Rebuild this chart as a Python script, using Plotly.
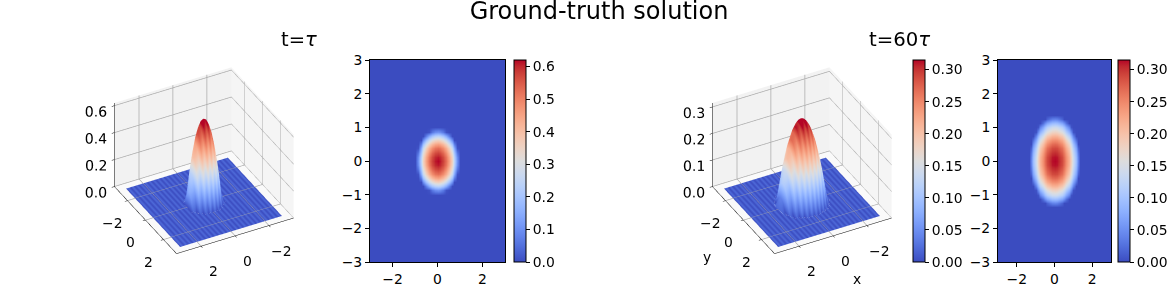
import numpy as np
import plotly.graph_objects as go

FIG_W, FIG_H = 1168, 295
TITLE = "Ground-truth solution"
SUBTITLES = ["t=<i>τ</i>", "t=60<i>τ</i>"]
GRID_STEP = 0.125
GRID_HALF = 24  # samples per side, -3 .. 3

# Values: one quadrant, |x| and |y| rising in 0.125 steps
QUADRANT_TAU = [
    [.620, .609, .578, .525, .452, .357, .241, .104],
    [.609, .599, .567, .515, .441, .346, .231, .094],
    [.578, .567, .536, .483, .409, .315, .199, .062],
    [.525, .515, .483, .431, .357, .262, .146, .010],
    [.452, .441, .409, .357, .283, .188, .073, 0],
    [.357, .346, .315, .262, .188, .094, 0, 0],
    [.241, .231, .199, .146, .073, 0, 0, 0],
    [.104, .094, .062, .010, 0, 0, 0, 0],
]
QUADRANT_60TAU = [
    [.315, .312, .304, .290, .271, .246, .216, .181, .140, .093, .041],
    [.312, .310, .301, .288, .268, .244, .214, .178, .137, .090, .038],
    [.304, .301, .293, .279, .260, .236, .205, .170, .129, .082, .030],
    [.290, .288, .279, .266, .246, .222, .192, .156, .115, .068, .016],
    [.271, .268, .260, .246, .227, .203, .173, .137, .096, .049, 0],
    [.246, .244, .236, .222, .203, .178, .148, .112, .071, .025, 0],
    [.216, .214, .205, .192, .173, .148, .118, .082, .041, 0, 0],
    [.181, .178, .170, .156, .137, .112, .082, .047, .005, 0, 0],
    [.140, .137, .129, .115, .096, .071, .041, .005, 0, 0, 0],
    [.093, .090, .082, .068, .049, .025, 0, 0, 0, 0, 0],
    [.041, .038, .030, .016, 0, 0, 0, 0, 0, 0, 0],
]
Z_MAX = [0.62, 0.315]
COLORBAR_TICKS = [[0, .1, .2, .3, .4, .5, .6], [0, .05, .1, .15, .2, .25, .3]]
SURFACE_Z_TICKS = [[0, .2, .4, .6], [0, .1, .2, .3]]
X_TICKS = [-2, 0, 2]
Y_TICKS = [-3, -2, -1, 0, 1, 2, 3]

COOLWARM_RGB = [
    (59, 76, 192), (68, 90, 204), (77, 104, 215), (87, 118, 225), (98, 130, 234),
    (108, 142, 241), (119, 154, 247), (130, 165, 251), (141, 176, 254), (152, 185, 255),
    (163, 194, 255), (174, 201, 253), (184, 208, 249), (194, 213, 244), (204, 217, 238),
    (213, 219, 230), (221, 221, 221), (229, 216, 209), (236, 211, 197), (241, 204, 185),
    (245, 196, 173), (247, 187, 160), (247, 177, 148), (247, 166, 135), (244, 154, 123),
    (241, 141, 111), (236, 127, 99), (229, 112, 88), (222, 96, 77), (213, 80, 66),
    (203, 62, 56), (192, 40, 47), (180, 4, 38),
]
coolwarm = [[i / (len(COOLWARM_RGB) - 1), f"rgb{c}"] for i, c in enumerate(COOLWARM_RGB)]


def expand(quadrant):
    """Mirror a quadrant to all four and pad with the zero plateau."""
    q = np.zeros((GRID_HALF + 1, GRID_HALF + 1))
    a = np.array(quadrant)
    q[: a.shape[0], : a.shape[1]] = a
    top = np.hstack([q[:, :0:-1], q])
    return np.vstack([top[:0:-1], top])


axis_vals = np.arange(-GRID_HALF, GRID_HALF + 1) * GRID_STEP
Z = [expand(QUADRANT_TAU), expand(QUADRANT_60TAU)]

FONT = "DejaVu Sans"
TICK = dict(family=FONT, size=13.9, color="black")
TICK3D = dict(family=FONT, size=13, color="black")


def fx(px):
    return px / FIG_W


def fy(px):
    return 1 - px / FIG_H


fig = go.Figure()


def colorbar(left, ticks, fmt):
    return dict(
        x=fx(left), xanchor="left", xref="paper", y=fy(262), yanchor="bottom", yref="paper",
        len=(262 - 60) / FIG_H, lenmode="fraction", thickness=12, thicknessmode="pixels",
        outlinecolor="black", outlinewidth=1, tickvals=ticks, tickformat=fmt, ticks="outside",
        ticklen=4, tickwidth=1, tickcolor="black", tickfont=TICK, xpad=0, ypad=0,
    )


SCENE_DOMAINS = [[54, 354], [652, 952]]
HEAT_DOMAINS = [[370, 505], [998, 1111]]
HEAT_BARS = [514, 1118]
FORMATS = [".1f", ".2f"]
RIB_SHADE = 0.07  # facet shading only: share of the colour range, alternating by column
BOX = 3.45

for k in range(2):
    ribs = RIB_SHADE * Z_MAX[k] * (np.arange(Z[k].shape[1]) % 2)
    surf = dict(
        x=axis_vals, y=axis_vals, z=Z[k], surfacecolor=Z[k] + ribs,
        colorscale=coolwarm, cmin=0, cmax=Z_MAX[k],
        lighting=dict(ambient=1.0, diffuse=0.0, specular=0.0, roughness=1, fresnel=0),
        hoverinfo="skip", scene="scene" if k == 0 else "scene2",
    )
    if k == 1:
        surf["showscale"] = True
        surf["colorbar"] = colorbar(913, COLORBAR_TICKS[1], ".2f")
    else:
        surf["showscale"] = False
    fig.add_trace(go.Surface(**surf))
    fig.add_trace(go.Heatmap(
        x=axis_vals, y=axis_vals, z=Z[k], colorscale=coolwarm, zmin=0, zmax=Z_MAX[k], zsmooth="best",
        xaxis="x" if k == 0 else "x2", yaxis="y" if k == 0 else "y2",
        colorbar=colorbar(HEAT_BARS[k], COLORBAR_TICKS[k], FORMATS[k]), hoverinfo="skip",
    ))

EYE = dict(x=0.807, y=1.52, z=1.205)


def label(x, y, text, dx, dy):
    return dict(x=x, y=y, z=0, text=text, showarrow=False, font=TICK, xshift=dx, yshift=dy,
                xanchor="center", yanchor="middle")


def scene(k):
    def ax(ticks, rng, bg, fmt=None, show_labels=True):
        d = dict(
            title=dict(text=""), tickvals=ticks, range=rng, autorange=False,
            showbackground=True, backgroundcolor=bg, gridcolor="#aaaaaa", gridwidth=1.5,
            showline=True, linecolor="black", linewidth=1, ticks="outside", ticklen=3,
            tickcolor="black", tickfont=TICK3D, tickangle=0, zeroline=False, showspikes=False,
            showticklabels=show_labels,
        )
        if fmt:
            d["tickformat"] = fmt
        return d
    notes = []
    for t in X_TICKS:
        txt = str(t).replace("-", "\u2212")
        notes.append(label(t, BOX, txt, 12, -25))
        notes.append(label(BOX, t, txt, -15, -22))
    if k:
        notes.append(label(BOX, 2, "y", -54, -17))
        notes.append(label(0, BOX, "x", 24, -43))
    return dict(
        domain=dict(x=[fx(SCENE_DOMAINS[k][0]), fx(SCENE_DOMAINS[k][1])], y=[fy(293), fy(28)]),
        xaxis=ax(X_TICKS, [-BOX, BOX], "#f5f5f5", show_labels=False),
        yaxis=ax(X_TICKS, [-BOX, BOX], "#f2f2f2", show_labels=False),
        zaxis=ax(SURFACE_Z_TICKS[k], [0, Z_MAX[k]], "#fafafa", ".1f"),
        aspectmode="manual", aspectratio=dict(x=1, y=1, z=0.77),
        camera=dict(eye=EYE, center=dict(x=0, y=0, z=0), up=dict(x=0, y=0, z=1),
                    projection=dict(type="orthographic")),
        annotations=notes,
    )


def heat_axes(k):
    xa = dict(
        domain=[fx(HEAT_DOMAINS[k][0]), fx(HEAT_DOMAINS[k][1])], range=[-3, 3], tickvals=X_TICKS,
        ticks="outside", ticklen=4, tickcolor="black", showline=True, linecolor="black", linewidth=1,
        mirror=True, showgrid=False, zeroline=False, tickfont=TICK,
    )
    ya = dict(
        domain=[fy(262), fy(60)], range=[-3, 3], tickvals=Y_TICKS,
        ticks="outside", ticklen=4, tickcolor="black", showline=True, linecolor="black", linewidth=1,
        mirror=True, showgrid=False, zeroline=False, tickfont=TICK,
    )
    return xa, ya


xa1, ya1 = heat_axes(0)
xa2, ya2 = heat_axes(1)
xa1["anchor"] = "y"
ya1["anchor"] = "x"
xa2["anchor"] = "y2"
ya2["anchor"] = "x2"

annotations = [
    dict(text=SUBTITLES[0], x=fx(299), y=fy(40), xref="paper", yref="paper", showarrow=False,
         font=dict(family=FONT, size=19.5, color="black"), xanchor="center", yanchor="middle"),
    dict(text=SUBTITLES[1], x=fx(899), y=fy(40), xref="paper", yref="paper", showarrow=False,
         font=dict(family=FONT, size=19.7, color="black"), xanchor="center", yanchor="middle"),
]

fig.update_layout(
    width=FIG_W, height=FIG_H, margin=dict(l=0, r=0, t=0, b=0, autoexpand=False), paper_bgcolor="white",
    plot_bgcolor="white", showlegend=False, annotations=annotations,
    title=dict(text=TITLE, x=fx(599), y=fy(11), xref="paper", yref="paper", xanchor="center", yanchor="middle",
               font=dict(family=FONT, size=24, color="black")),
    scene=scene(0), scene2=scene(1), xaxis=xa1, yaxis=ya1, xaxis2=xa2, yaxis2=ya2,
    font=dict(family=FONT),
)
fig.write_html("out.html", config=dict(displayModeBar=False),
               post_script="document.body.style.margin='0';document.body.style.overflow='hidden';")
